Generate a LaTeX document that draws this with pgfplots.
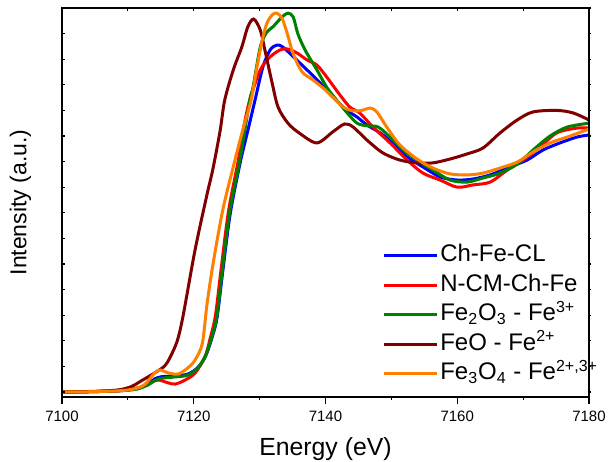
\documentclass[border=0pt]{standalone}
\usepackage{fontspec}
\setmainfont{Liberation Sans}
\usepackage{pgfplots}
\pgfplotsset{compat=1.18}

\definecolor{cblue}{RGB}{0,0,255}
\definecolor{cred}{RGB}{255,0,0}
\definecolor{cgreen}{RGB}{0,128,0}
\definecolor{cmaroon}{RGB}{128,0,0}
\definecolor{corange}{RGB}{255,128,0}

\pgfplotsset{
  frame/.style={
    scale only axis, width=263.5pt, height=194.5pt,
    xmin=7100, xmax=7180, ymin=-0.0195, ymax=1.5,
    axis line style={line width=0.8pt},
    every tick/.style={black, line width=0.6pt},
  },
}

\begin{document}
\begin{tikzpicture}
\useasboundingbox (-31pt,-32pt) rectangle (273.5pt,198.5pt);
% data, bottom ticks and labels
\begin{axis}[frame,
  at={(0,0)}, anchor=south west,
  xtick={7100,7120,...,7180}, minor xtick={7110,7130,7150,7170},
  xtick pos=bottom, ytick=\empty,
  tick align=outside, major tick length=3.5pt, minor tick length=1.6pt,
  /pgf/number format/assume math mode=true,
  /pgf/number format/1000 sep={},
  xticklabel style={font=\fontsize{7.5}{9}\selectfont},
  xlabel={Energy (eV)}, ylabel={Intensity (a.u.)},
  xlabel style={font=\fontsize{12.4}{14}\selectfont, at={(axis description cs:0.5,0)}, anchor=center, yshift=-26pt},
  ylabel style={font=\fontsize{11.5}{14}\selectfont, at={(axis description cs:-0.079,0.5)}, anchor=center},
  every axis plot/.append style={line width=1.5pt, smooth},
  legend style={at={(axis description cs:0.607,0.40)}, anchor=north west,
    draw=none, fill=none, font=\fontsize{12}{14}\selectfont,
    row sep=0.75pt, inner sep=0pt,
    nodes={inner sep=1pt, text height=9pt, text depth=3pt}},
  legend cell align=left,
  legend image code/.code={\draw[#1] (0pt,0pt) -- (26.5pt,0pt);},
]
% Ch-Fe-CL
\addplot[cblue] coordinates {
(7100,0)(7104,0.001)(7108,0.004)(7110,0.008)(7111.5,0.014)(7113.1,0.032)(7114.1,0.052)(7115.2,0.06)
(7117.2,0.063)(7119.1,0.07)(7120.6,0.095)(7121.7,0.135)(7122.5,0.19)(7123.5,0.285)
(7124.4,0.47)(7125.5,0.69)(7127.0,0.89)(7128.2,1.02)(7129.3,1.14)(7130.5,1.27)
(7131.6,1.336)(7132.6,1.355)(7133.5,1.348)(7135.1,1.31)(7137.2,1.258)(7139.2,1.207)
(7141.1,1.152)(7143.3,1.10)(7144.8,1.074)(7146.3,1.043)(7148.3,1.012)(7150.2,0.973)
(7152.4,0.918)(7154.8,0.879)(7157.4,0.84)(7160.0,0.828)(7162.4,0.832)(7165.0,0.848)
(7167.6,0.875)(7170.6,0.906)(7173.0,0.945)(7175.6,0.973)(7178.2,0.996)(7180,1.004)};
\addlegendentry{Ch-Fe-CL}
% N-CM-Ch-Fe
\addplot[cred] coordinates {
(7100,0)(7104,0.001)(7108,0.004)(7110,0.008)(7112,0.02)(7113.5,0.037)(7114.6,0.047)(7116.1,0.036)
(7117.2,0.031)(7118.7,0.047)(7120.2,0.074)(7121.7,0.137)(7122.5,0.21)(7123.3,0.30)
(7124.2,0.49)(7125.3,0.71)(7126.8,0.91)(7127.5,1.023)(7128.5,1.14)(7130.1,1.258)
(7131.6,1.309)(7133.1,1.336)(7134.2,1.34)(7135.7,1.324)(7137.2,1.297)(7138.7,1.277)
(7140.2,1.23)(7142.2,1.16)(7143.7,1.113)(7145.2,1.09)(7147.2,1.035)(7149.8,0.973)
(7152.4,0.906)(7154.8,0.855)(7157.4,0.828)(7160.0,0.80)(7162.4,0.809)(7165.0,0.82)
(7167.6,0.867)(7170.0,0.906)(7172.6,0.957)(7175.1,1.012)(7178.2,1.031)(7180,1.031)};
\addlegendentry{N-CM-Ch-Fe}
% Fe2O3
\addplot[cgreen] coordinates {
(7100,0)(7104,0.001)(7108,0.004)(7110,0.007)(7111.5,0.012)(7113.1,0.028)(7114.1,0.045)(7115.2,0.054)
(7117.2,0.059)(7119.1,0.066)(7120.6,0.094)(7121.7,0.137)(7122.5,0.195)(7123.5,0.293)
(7124.4,0.49)(7125.5,0.71)(7127.0,0.906)(7128.5,1.14)(7129.0,1.19)(7130.1,1.348)
(7131.1,1.406)(7132.0,1.426)(7133.4,1.465)(7134.3,1.48)(7135.1,1.465)(7135.8,1.40)
(7136.9,1.336)(7138.7,1.258)(7140.2,1.19)(7141.7,1.14)(7143.3,1.09)(7144.8,1.05)
(7146.3,1.04)(7148.0,1.035)(7149.8,0.996)(7151.8,0.945)(7153.9,0.906)(7156.3,0.867)
(7158.9,0.828)(7161.5,0.82)(7163.9,0.836)(7166.5,0.855)(7169.1,0.89)(7171.5,0.945)
(7174.1,1.0)(7176.7,1.035)(7180,1.05)};
\addlegendentry{Fe\textsubscript{2}O\textsubscript{3} - Fe\textsuperscript{3+}}
% FeO
\addplot[cmaroon] coordinates {
(7100,0)(7104,0.002)(7107,0.005)(7109,0.01)(7110.6,0.022)(7112,0.043)(7114.1,0.075)(7115.6,0.102)
(7116.4,0.135)(7117.5,0.20)(7118.4,0.30)(7120.2,0.555)(7122.0,0.77)(7122.9,0.87)
(7124.0,1.02)(7124.7,1.14)(7126.0,1.258)(7127.3,1.348)(7128.2,1.426)(7129.1,1.457)
(7130.1,1.414)(7130.8,1.336)(7131.9,1.207)(7132.8,1.113)(7134.3,1.05)(7136.1,1.01)
(7138.7,0.973)(7141.1,1.016)(7142.9,1.047)(7144.2,1.035)(7146.3,0.984)(7148.7,0.934)
(7151.3,0.906)(7153.9,0.895)(7156.3,0.895)(7158.9,0.91)(7161.5,0.93)(7163.9,0.953)
(7166.5,1.012)(7169.1,1.0625)(7171.5,1.094)(7175.1,1.10)(7177.6,1.09)(7180,1.0625)};
\addlegendentry{FeO - Fe\textsuperscript{2+}}
% Fe3O4
\addplot[corange] coordinates {
(7100,0)(7104,0.001)(7108,0.004)(7110,0.008)(7111.5,0.016)(7112.6,0.03)(7114.1,0.075)(7114.9,0.086)
(7116.1,0.075)(7117.6,0.07)(7119.1,0.094)(7120.2,0.125)(7121.3,0.19)(7122.0,0.34)
(7122.9,0.496)(7124.4,0.71)(7126.0,0.88)(7127.3,1.01)(7128.7,1.14)(7129.6,1.27)
(7130.4,1.375)(7131.1,1.44)(7131.9,1.473)(7132.6,1.48)(7133.4,1.46)(7134.2,1.40)
(7134.9,1.336)(7135.7,1.285)(7136.6,1.246)(7138.1,1.219)(7139.6,1.188)(7141.1,1.152)
(7142.7,1.113)(7144.2,1.098)(7145.5,1.10)(7146.8,1.109)(7147.8,1.094)(7149.3,1.035)
(7151.3,0.965)(7153.9,0.91)(7156.3,0.875)(7158.9,0.852)(7161.5,0.848)(7163.9,0.855)
(7166.5,0.875)(7169.1,0.898)(7171.5,0.9375)(7174.1,0.973)(7176.7,0.996)(7180,1.027)};
\addlegendentry{Fe\textsubscript{3}O\textsubscript{4} - Fe\textsuperscript{2+,3+}}
\end{axis}
% top and left ticks, inside
\begin{axis}[frame,
  at={(0,0)}, anchor=south west,
  xtick={7100,7110,...,7180}, xtick pos=top, xticklabels={},
  ytick={0,0.1,...,1.5}, ytick pos=left, yticklabels={},
  tick align=inside, major tick length=1.3pt,
]
\end{axis}
% right ticks, outside
\begin{axis}[frame,
  at={(0,0)}, anchor=south west,
  xtick=\empty,
  ytick={0,0.1,...,1.5}, ytick pos=right, yticklabels={},
  tick align=outside, major tick length=1.2pt,
]
\end{axis}
\end{tikzpicture}
\end{document}
